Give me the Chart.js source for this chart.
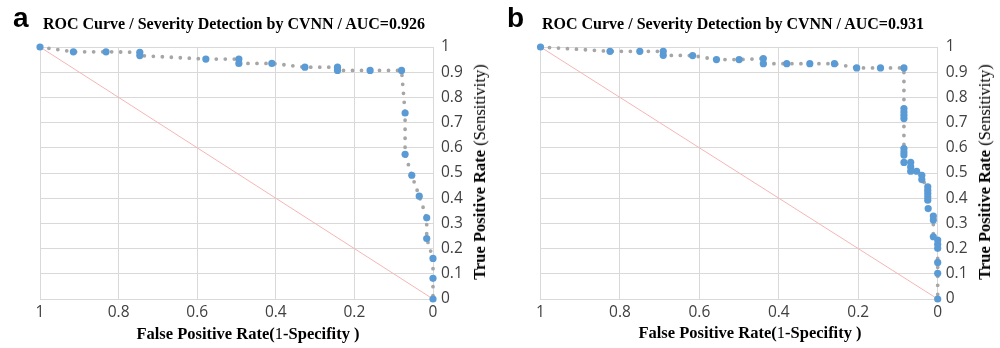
<!DOCTYPE html>
<html>
<head>
<meta charset="utf-8">
<script src="https://cdn.jsdelivr.net/npm/chart.js@4.4.1/dist/chart.umd.min.js"></script>
<style>
  html, body { margin: 0; padding: 0; background: #fff; }
  #wrap { position: relative; width: 1000px; height: 348px; overflow: hidden; background: #fff; }
  .panel { position: absolute; top: 0; width: 500px; height: 348px; }
  .lbl { position: absolute; white-space: nowrap; color: #000; }
  .letter { font-family: "Liberation Sans", Arial, sans-serif; font-weight: bold; font-size: 28px; line-height: 28px; }
  .title { font-family: "Liberation Serif", "Times New Roman", serif; font-weight: bold; font-size: 16px; line-height: 16px; }
  .axt { font-family: "Liberation Serif", "Times New Roman", serif; font-weight: bold; font-size: 16.5px; line-height: 16px; transform: translateX(-50%); }
  .yt { font-family: "Liberation Serif", "Times New Roman", serif; font-weight: bold; font-size: 16.5px; line-height: 16px; transform: translate(-50%, -50%) rotate(-90deg); }
  .reg { font-weight: normal; }
</style>
</head>
<body>
<div id="wrap">
  <div class="panel" style="left:0"><canvas id="ca" width="500" height="348"></canvas></div>
  <div class="panel" style="left:500px"><canvas id="cb" width="500" height="348"></canvas></div>

  <div class="lbl letter" style="left:13px; top:4px;">a</div>
  <div class="lbl title" style="left:43px; top:16px;">ROC Curve / Severity Detection by CVNN / AUC=0.926</div>
  <div class="lbl axt" style="left:248px; top:326px;">False Positive Rate(<span class="reg">1</span>-Specifity )</div>
  <div class="lbl yt" style="left:480px; top:172px;">True Positive Rate <span class="reg">(Sensitivity)</span></div>

  <div class="lbl letter" style="left:507px; top:4px;">b</div>
  <div class="lbl title" style="left:542px; top:16px;">ROC Curve / Severity Detection by CVNN / AUC=0.931</div>
  <div class="lbl axt" style="left:750px; top:325px;">False Positive Rate(<span class="reg">1</span>-Specifity )</div>
  <div class="lbl yt" style="left:985px; top:172px;">True Positive Rate <span class="reg">(Sensitivity)</span></div>
</div>
<script>
// ---- data ----
const xTicks = [1, 0.8, 0.6, 0.4, 0.2, 0];
const yTicks = [1, 0.9, 0.8, 0.7, 0.6, 0.5, 0.4, 0.3, 0.2, 0.1, 0];

const fprA = [1.0, 0.915, 0.832, 0.746, 0.746, 0.578, 0.494, 0.494, 0.41, 0.326, 0.243, 0.243, 0.16, 0.08, 0.071, 0.071, 0.054, 0.035, 0.016, 0.016, 0.0, 0.0, 0.0];
const tprA = [1.0, 0.981, 0.981, 0.979, 0.966, 0.952, 0.952, 0.935, 0.935, 0.92, 0.92, 0.907, 0.907, 0.907, 0.738, 0.574, 0.491, 0.408, 0.322, 0.24, 0.161, 0.082, 0.0];

const fprB = [1.0, 0.825, 0.75, 0.691, 0.691, 0.617, 0.557, 0.5, 0.439, 0.439, 0.38, 0.322, 0.26, 0.204, 0.144,
  0.085, 0.085, 0.085, 0.085, 0.085, 0.085, 0.085, 0.085, 0.085,
  0.068, 0.068, 0.068, 0.053, 0.04, 0.04, 0.025, 0.025, 0.025, 0.025, 0.025, 0.024,
  0.011, 0.011, 0.011, 0.0, 0.0, 0.0, 0.0, 0.0, 0.0];
const tprB = [1.0, 0.983, 0.983, 0.983, 0.967, 0.966, 0.95, 0.95, 0.954, 0.934, 0.934, 0.934, 0.934, 0.917, 0.917,
  0.917, 0.756, 0.742, 0.729, 0.716, 0.597, 0.583, 0.571, 0.542,
  0.542, 0.524, 0.507, 0.507, 0.491, 0.474, 0.445, 0.432, 0.419, 0.405, 0.392, 0.359,
  0.329, 0.313, 0.247, 0.234, 0.217, 0.201, 0.145, 0.102, 0.0];

const chanceX = [1, 0];
const chanceY = [1, 0];

// ---- chart builder ----
function pts(xs, ys) { return xs.map((x, i) => ({ x: x, y: ys[i] })); }
function fmt(v) { return String(+(+v).toFixed(1)); }

function makeChart(id, fpr, tpr, padLeft, yWidth) {
  const gridColor = '#d9d9d9';
  const tickFont = { family: '"Open Sans", "Noto Sans", sans-serif', size: 15.5 };
  return new Chart(document.getElementById(id), {
    type: 'scatter',
    data: {
      datasets: [
        {
          data: pts(chanceX, chanceY),
          showLine: true,
          borderColor: '#f5b5b5',
          borderWidth: 1,
          pointRadius: 0,
          pointHoverRadius: 0,
          clip: false,
          order: 2
        },
        {
          data: pts(fpr, tpr),
          showLine: true,
          borderColor: '#a6a6a6',
          borderWidth: 3.8,
          borderDash: [0, 9],
          borderCapStyle: 'round',
          tension: 0,
          pointRadius: 3.6,
          pointBorderWidth: 0,
          pointBackgroundColor: '#5b9bd5',
          pointBorderColor: '#5b9bd5',
          clip: false,
          order: 1
        }
      ]
    },
    options: {
      responsive: false,
      animation: false,
      devicePixelRatio: 1,
      layout: { padding: { left: padLeft, top: 47, right: 0, bottom: 0 } },
      plugins: { legend: { display: false }, tooltip: { enabled: false }, title: { display: false } },
      scales: {
        x: {
          type: 'linear',
          min: 0, max: 1,
          reverse: true,
          afterBuildTicks: (s) => { s.ticks = xTicks.map(v => ({ value: v })); },
          afterFit: (s) => { s.height = 49; },
          grid: { color: gridColor, lineWidth: 1, drawTicks: false },
          border: { color: gridColor, width: 1 },
          ticks: { color: '#404040', font: tickFont, padding: 4, maxRotation: 0, callback: (v) => fmt(v) }
        },
        y: {
          type: 'linear',
          position: 'right',
          min: 0, max: 1,
          afterBuildTicks: (s) => { s.ticks = yTicks.map(v => ({ value: v })); },
          afterFit: (s) => { s.width = yWidth; },
          grid: { color: gridColor, lineWidth: 1, drawTicks: false },
          border: { color: gridColor, width: 1 },
          ticks: { color: '#404040', font: tickFont, padding: 8, callback: (v) => fmt(v) }
        }
      }
    }
  });
}

makeChart('ca', fprA, tprA, 40, 67);
makeChart('cb', fprB, tprB, 40.5, 62.3);
</script>
</body>
</html>
